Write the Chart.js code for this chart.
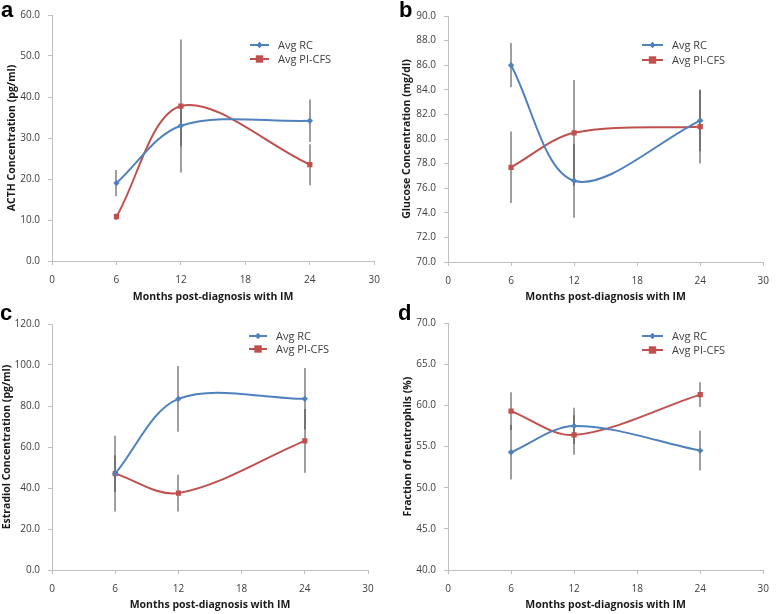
<!DOCTYPE html>
<html>
<head>
<meta charset="utf-8">
<script src="https://cdn.jsdelivr.net/npm/chart.js@4.4.0/dist/chart.umd.min.js"></script>
<style>
  body { margin: 0; background: #fff; }
  #wrap { position: relative; width: 778px; height: 614px; overflow: hidden; }
  canvas { position: absolute; }
  .tag { position: absolute; font: bold 22px "Liberation Sans", Arial, sans-serif; line-height: 22px; color: #000; }
</style>
</head>
<body>
<div id="wrap">
  <canvas id="ca" width="389" height="305" style="left:0;top:0"></canvas>
  <canvas id="cb" width="389" height="305" style="left:389px;top:0"></canvas>
  <canvas id="cc" width="389" height="309" style="left:0;top:305px"></canvas>
  <canvas id="cd" width="389" height="309" style="left:389px;top:305px"></canvas>
  <div class="tag" style="left:1px;top:-1px">a</div>
  <div class="tag" style="left:399px;top:-1px">b</div>
  <div class="tag" style="left:0px;top:302px">c</div>
  <div class="tag" style="left:398px;top:302px">d</div>
</div>
<script>
// months after diagnosis
var months = [6, 12, 24];
var seriesNames = ["Avg RC", "Avg PI-CFS"];
var xTitle = "Months post-diagnosis with IM";

// a - ACTH
var acthRC = [19.0, 33.0, 34.2];
var acthRCErr = [3.2, 5.0, 5.2];
var acthPI = [10.8, 37.8, 23.5];
var acthPIErr = [0.8, 16.2, 5.0];

// b - glucose
var glucoseRC = [86.0, 76.6, 81.5];
var glucoseRCErr = [1.8, 3.0, 2.5];
var glucosePI = [77.7, 80.5, 81.0];
var glucosePIErr = [2.9, 4.3, 3.0];

// c - estradiol
var estradiolRC = [47.0, 83.5, 83.5];
var estradiolRCErr = [9.0, 16.0, 15.0];
var estradiolPI = [47.0, 37.5, 63.0];
var estradiolPIErr = [18.5, 9.0, 15.5];

// d - neutrophils
var neutRC = [54.3, 57.5, 54.5];
var neutRCErr = [3.3, 2.2, 2.4];
var neutPI = [59.3, 56.4, 61.3];
var neutPIErr = [2.3, 2.4, 1.5];

var blue = "#4F81BD";
var red = "#C0504D";
var axisGray = "#BFBFBF";
var tickColor = "#404040";
var fontName = "'Open Sans', sans-serif";

function pts(vals) {
  return vals.map(function(v, i) { return {x: months[i], y: vals[i]}; });
}

// vertical error bars, drawn under the lines
var errorBars = {
  id: "errorBars",
  beforeDatasetsDraw: function(chart) {
    var ctx = chart.ctx, xs = chart.scales.x, ys = chart.scales.y;
    ctx.save();
    ctx.strokeStyle = "rgba(80,80,80,0.55)";
    ctx.lineWidth = 2;
    chart.data.datasets.forEach(function(ds) {
      ds.data.forEach(function(p, i) {
        var e = ds.errors[i];
        var x = Math.round(xs.getPixelForValue(p.x));
        ctx.beginPath();
        ctx.moveTo(x, ys.getPixelForValue(p.y - e));
        ctx.lineTo(x, ys.getPixelForValue(p.y + e));
        ctx.stroke();
      });
    });
    ctx.restore();
  }
};

function marker(ctx, style, x, y, r) {
  ctx.beginPath();
  if (style == "rect") {
    ctx.rect(x - r, y - r, r * 2, r * 2);
  } else {
    ctx.moveTo(x, y - r); ctx.lineTo(x + r, y); ctx.lineTo(x, y + r); ctx.lineTo(x - r, y);
    ctx.closePath();
  }
  ctx.fill();
}

// legend sitting inside the plot, like the Excel one
var insideLegend = {
  id: "insideLegend",
  afterDraw: function(chart, args, opts) {
    var ctx = chart.ctx;
    ctx.save();
    ctx.font = "11px " + fontName;
    ctx.textBaseline = "middle";
    chart.data.datasets.forEach(function(ds, i) {
      var y = opts.y + i * opts.gap;
      ctx.strokeStyle = ds.borderColor;
      ctx.fillStyle = ds.borderColor;
      ctx.lineWidth = 2;
      ctx.beginPath();
      ctx.moveTo(opts.x, y);
      ctx.lineTo(opts.x + opts.len, y);
      ctx.stroke();
      marker(ctx, ds.pointStyle, opts.x + opts.len / 2, y, ds.pointRadius);
      ctx.fillStyle = tickColor;
      ctx.fillText(ds.label, opts.x + opts.len + 9, y + 1);
    });
    ctx.restore();
  }
};

function makeChart(id, p) {
  var sets = [
    {label: seriesNames[0], data: pts(p.rc), errors: p.rcErr, borderColor: blue, backgroundColor: blue,
     pointStyle: "rectRot", pointRadius: 3.2},
    {label: seriesNames[1], data: pts(p.pi), errors: p.piErr, borderColor: red, backgroundColor: red,
     pointStyle: "rect", pointRadius: 3.7}
  ];
  sets.forEach(function(s) {
    s.borderWidth = 2;
    s.tension = 0.33;
    s.pointBorderWidth = 0;
    s.fill = false;
  });
  return new Chart(document.getElementById(id), {
    type: "line",
    data: {datasets: sets},
    plugins: [errorBars, insideLegend],
    options: {
      responsive: false,
      animation: false,
      devicePixelRatio: 1,
      layout: {padding: {left: 0, top: p.top, right: p.right, bottom: 0}},
      plugins: {
        legend: {display: false},
        tooltip: {enabled: false},
        insideLegend: p.legend
      },
      scales: {
        x: {
          type: "linear", min: 0, max: 30,
          ticks: {stepSize: 6, color: tickColor, font: {family: fontName, size: 10}, padding: 9},
          grid: {drawOnChartArea: false, tickLength: 4, color: axisGray},
          border: {color: axisGray},
          title: {display: true, text: xTitle, color: "#1a1a1a",
                  font: {family: fontName, size: 10.5, weight: "bold"}, padding: {top: 0, bottom: p.xtPad}},
          afterFit: function(s) { s.height = p.xh; }
        },
        y: {
          min: p.ymin, max: p.ymax,
          ticks: {stepSize: p.step, color: tickColor, font: {family: fontName, size: 10}, padding: 8,
                  callback: function(v) { return v.toFixed(1); }},
          grid: {drawOnChartArea: false, tickLength: 4, color: axisGray},
          border: {color: axisGray},
          title: {display: true, text: p.ytitle, color: "#1a1a1a",
                  font: {family: fontName, size: 10.5, weight: "bold"}, padding: {top: p.ytPad, bottom: 0}},
          afterFit: function(s) { s.width = p.left; }
        }
      }
    }
  });
}

makeChart("ca", {rc: acthRC, rcErr: acthRCErr, pi: acthPI, piErr: acthPIErr,
  ymin: 0, ymax: 60, step: 10, ytitle: "ACTH Concentration (pg/ml)",
  left: 52, top: 15, right: 14, xh: 44, xtPad: 2, ytPad: 6,
  legend: {x: 250, y: 45, gap: 14, len: 19}});

makeChart("cb", {rc: glucoseRC, rcErr: glucoseRCErr, pi: glucosePI, piErr: glucosePIErr,
  ymin: 70, ymax: 90, step: 2, ytitle: "Glucose Concentration (mg/dl)",
  left: 59, top: 16, right: 8, xh: 43, xtPad: 2, ytPad: 12,
  legend: {x: 253, y: 45, gap: 15, len: 21}});

makeChart("cc", {rc: estradiolRC, rcErr: estradiolRCErr, pi: estradiolPI, piErr: estradiolPIErr,
  ymin: 0, ymax: 120, step: 20, ytitle: "Estradiol Concentration (pg/ml)",
  left: 52, top: 19, right: 21, xh: 44, xtPad: 3, ytPad: 1,
  legend: {x: 249, y: 31, gap: 13, len: 18}});

makeChart("cd", {rc: neutRC, rcErr: neutRCErr, pi: neutPI, piErr: neutPIErr,
  ymin: 40, ymax: 70, step: 5, ytitle: "Fraction of neutrophils (%)",
  left: 59, top: 18, right: 10, xh: 44, xtPad: 3, ytPad: 13,
  legend: {x: 253, y: 31, gap: 14, len: 21}});
</script>
</body>
</html>
